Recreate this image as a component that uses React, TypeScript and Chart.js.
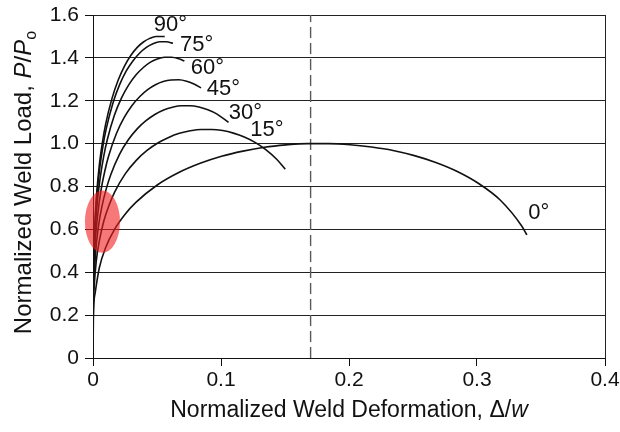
import React, { useEffect, useRef } from 'react';
import { Chart, registerables } from 'chart.js';

Chart.register(...registerables);

const FONT = "'Liberation Sans', Arial, Helvetica, sans-serif";

// Tick labels
const xTickLabels = ['0', '0.1', '0.2', '0.3', '0.4'];
const yTickLabels = ['0', '0.2', '0.4', '0.6', '0.8', '1.0', '1.2', '1.4', '1.6'];

// Curve labels (angle) and their anchor points in data units
const angleLabels = ['0°', '15°', '30°', '45°', '60°', '75°', '90°'];
const labelAnchorX = [0.3483, 0.1359, 0.1191, 0.1018, 0.0893, 0.081, 0.0604];
const labelAnchorY = [0.679, 1.066, 1.144, 1.254, 1.351, 1.461, 1.553];

// Normalized deformation (x) and load (y)
const theta0X = [0, 0.0003, 0.0017, 0.005, 0.010, 0.0167, 0.0251, 0.0335, 0.0502, 0.067, 0.0837, 0.1004, 0.1172, 0.1339, 0.1507, 0.1674, 0.1841, 0.2009, 0.2176, 0.2344, 0.2511, 0.2678, 0.2846, 0.3013, 0.3181, 0.3348, 0.339];
const theta0Y = [0, 0.188, 0.304, 0.422, 0.517, 0.599, 0.671, 0.726, 0.807, 0.865, 0.908, 0.941, 0.965, 0.983, 0.994, 1.0, 1.0, 0.995, 0.984, 0.968, 0.944, 0.912, 0.870, 0.814, 0.737, 0.617, 0.574];

const theta15X = [0, 0.00017, 0.00084, 0.0025, 0.0051, 0.0084, 0.0127, 0.0169, 0.0253, 0.0338, 0.0422, 0.0506, 0.0591, 0.0675, 0.076, 0.0844, 0.0928, 0.1013, 0.1097, 0.1182, 0.1266, 0.135, 0.1435, 0.1502];
const theta15Y = [0, 0.200, 0.324, 0.449, 0.551, 0.638, 0.715, 0.774, 0.860, 0.922, 0.968, 1.003, 1.029, 1.048, 1.060, 1.066, 1.066, 1.061, 1.049, 1.031, 1.006, 0.972, 0.927, 0.881];

const theta30X = [0, 0.00014, 0.00069, 0.0021, 0.0041, 0.0069, 0.0104, 0.0138, 0.0207, 0.0276, 0.0345, 0.0414, 0.0483, 0.0552, 0.0621, 0.069, 0.0759, 0.0828, 0.0897, 0.0966, 0.1059];
const theta30Y = [0, 0.221, 0.358, 0.496, 0.608, 0.705, 0.790, 0.854, 0.950, 1.018, 1.069, 1.107, 1.136, 1.157, 1.170, 1.177, 1.177, 1.171, 1.158, 1.139, 1.099];

const theta45X = [0, 0.00012, 0.00061, 0.0018, 0.0037, 0.0061, 0.0092, 0.0122, 0.0183, 0.0244, 0.0305, 0.0366, 0.0427, 0.0488, 0.0549, 0.061, 0.0671, 0.0732, 0.0793, 0.0844];
const theta45Y = [0, 0.244, 0.395, 0.547, 0.670, 0.777, 0.871, 0.942, 1.047, 1.122, 1.178, 1.220, 1.252, 1.275, 1.290, 1.297, 1.298, 1.291, 1.277, 1.260];

const theta60X = [0, 0.00011, 0.00056, 0.0017, 0.0033, 0.0056, 0.0084, 0.0112, 0.0167, 0.0223, 0.0279, 0.0335, 0.0391, 0.0446, 0.0502, 0.0558, 0.0614, 0.067, 0.0714];
const theta60Y = [0, 0.264, 0.427, 0.592, 0.725, 0.840, 0.942, 1.019, 1.132, 1.213, 1.274, 1.320, 1.354, 1.379, 1.395, 1.403, 1.403, 1.396, 1.385];

const theta75X = [0, 0.0001, 0.00052, 0.0016, 0.0031, 0.0052, 0.0078, 0.0104, 0.0156, 0.0208, 0.026, 0.0313, 0.0365, 0.0417, 0.0469, 0.0521, 0.0573, 0.0625];
const theta75Y = [0, 0.277, 0.448, 0.622, 0.762, 0.883, 0.990, 1.071, 1.190, 1.275, 1.339, 1.387, 1.423, 1.449, 1.466, 1.475, 1.475, 1.468];

const theta90X = [0, 0.0001, 0.00049, 0.0015, 0.003, 0.0049, 0.0074, 0.0098, 0.0148, 0.0197, 0.0246, 0.0295, 0.0344, 0.0394, 0.0443, 0.0492, 0.0541, 0.056];
const theta90Y = [0, 0.282, 0.456, 0.632, 0.775, 0.898, 1.007, 1.089, 1.210, 1.297, 1.362, 1.411, 1.448, 1.474, 1.491, 1.5, 1.5, 1.499];

const curvesX = [theta0X, theta15X, theta30X, theta45X, theta60X, theta75X, theta90X];
const curvesY = [theta0Y, theta15Y, theta30Y, theta45Y, theta60Y, theta75Y, theta90Y];

// Dashed limit line
const limitDeformation = [0.17, 0.17];
const limitLoad = [0, 1.6];

// Highlight ellipse (data units)
const highlightCenter = [0.0074, 0.636];
const highlightRadii = [0.0137, 0.145];

type Seg = { text: string; italic?: boolean; sub?: boolean };
const xTitle: Seg[] = [
  { text: 'Normalized Weld Deformation, ' },
  { text: 'Δ' },
  { text: '/' },
  { text: 'w', italic: true },
];
const yTitle: Seg[] = [
  { text: 'Normalized Weld Load, ' },
  { text: 'P', italic: true },
  { text: '/' },
  { text: 'P', italic: true },
  { text: 'o', sub: true },
];

function drawRich(ctx: CanvasRenderingContext2D, segs: Seg[], cx: number, baseY: number, size: number) {
  const fontFor = (s: Seg) => `${s.italic ? 'italic ' : ''}${s.sub ? Math.round(size * 0.68) : size}px ${FONT}`;
  let total = 0;
  const widths = segs.map((s) => {
    ctx.font = fontFor(s);
    const w = ctx.measureText(s.text).width;
    total += w;
    return w;
  });
  let x = cx - total / 2;
  ctx.textAlign = 'left';
  ctx.textBaseline = 'alphabetic';
  segs.forEach((s, i) => {
    ctx.font = fontFor(s);
    ctx.fillText(s.text, x, baseY + (s.sub ? size * 0.22 : 0));
    x += widths[i];
  });
}

const overlayPlugin = {
  id: 'overlay',
  afterDatasetsDraw(chart: any) {
    const { ctx, scales } = chart;
    const xs = scales.x;
    const ys = scales.y;
    // highlight ellipse
    const cx = xs.getPixelForValue(highlightCenter[0]);
    const cy = ys.getPixelForValue(highlightCenter[1]);
    const rx = Math.abs(xs.getPixelForValue(highlightCenter[0] + highlightRadii[0]) - cx);
    const ry = Math.abs(ys.getPixelForValue(highlightCenter[1] + highlightRadii[1]) - cy);
    ctx.save();
    ctx.fillStyle = 'rgba(240, 30, 30, 0.6)';
    ctx.beginPath();
    ctx.ellipse(cx, cy, rx, ry, 0, 0, Math.PI * 2);
    ctx.fill();
    ctx.restore();

    // curve labels
    ctx.save();
    ctx.fillStyle = '#111';
    ctx.font = `22px ${FONT}`;
    ctx.textAlign = 'center';
    ctx.textBaseline = 'middle';
    angleLabels.forEach((t, i) => {
      ctx.fillText(t, xs.getPixelForValue(labelAnchorX[i]), ys.getPixelForValue(labelAnchorY[i]));
    });
    ctx.restore();
  },
  afterDraw(chart: any) {
    const { ctx, chartArea } = chart;
    ctx.save();
    ctx.fillStyle = '#111';
    drawRich(ctx, xTitle, (chartArea.left + chartArea.right) / 2, 417, 23);
    ctx.translate(31, (chartArea.top + chartArea.bottom) / 2 - 4);
    ctx.rotate(-Math.PI / 2);
    drawRich(ctx, yTitle, 0, 0, 24);
    ctx.restore();
  },
};

export default function App() {
  const ref = useRef<HTMLCanvasElement | null>(null);

  useEffect(() => {
    if (!ref.current) return;
    const datasets: any[] = curvesX.map((xs, i) => ({
      label: angleLabels[i],
      data: xs.map((x, j) => ({ x, y: curvesY[i][j] })),
      showLine: true,
      borderColor: '#111',
      borderWidth: 1.6,
      pointRadius: 0,
      cubicInterpolationMode: 'monotone',
      fill: false,
    }));
    datasets.push({
      label: 'limit',
      data: limitDeformation.map((x, j) => ({ x, y: limitLoad[j] })),
      showLine: true,
      borderColor: '#5a5a5a',
      borderWidth: 1.4,
      borderDash: [11, 5],
      pointRadius: 0,
      fill: false,
    });

    const chart = new Chart(ref.current, {
      type: 'scatter',
      data: { datasets },
      plugins: [overlayPlugin],
      options: {
        animation: false,
        responsive: false,
        devicePixelRatio: 1,
        layout: { padding: { top: 15, right: 15, left: 0, bottom: 0 } },
        plugins: { legend: { display: false }, tooltip: { enabled: false }, title: { display: false } },
        scales: {
          x: {
            type: 'linear',
            min: 0,
            max: 0.4,
            afterFit: (s: any) => {
              s.height = 74;
              s.paddingLeft = 0;
              s.paddingRight = 0;
            },
            ticks: {
              stepSize: 0.1,
              autoSkip: false,
              maxRotation: 0,
              padding: 2,
              color: '#111',
              font: { family: FONT, size: 21 },
              callback: (_v: any, i: number) => xTickLabels[i],
            },
            grid: {
              drawOnChartArea: true,
              color: (c: any) => (c.tick && Math.abs(c.tick.value - 0.4) < 1e-9 ? '#222' : 'rgba(0,0,0,0)'),
              tickColor: '#111',
              tickLength: 8,
              lineWidth: 1,
            },
            border: { display: true, color: '#111', width: 1 },
          },
          y: {
            type: 'linear',
            min: 0,
            max: 1.6,
            afterFit: (s: any) => {
              s.width = 93;
              s.paddingTop = 0;
              s.paddingBottom = 0;
            },
            ticks: {
              stepSize: 0.2,
              autoSkip: false,
              padding: 6,
              color: '#111',
              font: { family: FONT, size: 21 },
              callback: (_v: any, i: number) => yTickLabels[i],
            },
            grid: {
              color: '#222',
              tickColor: '#111',
              tickLength: 8,
              lineWidth: 1,
            },
            border: { display: true, color: '#111', width: 1 },
          },
        },
      },
    });
    return () => chart.destroy();
  }, []);

  return (
    <div style={{ position: 'fixed', left: 0, top: 0, width: 620, height: 432, background: '#fff' }}>
      <canvas ref={ref} width={620} height={432} style={{ display: 'block', width: 620, height: 432 }} />
    </div>
  );
}
